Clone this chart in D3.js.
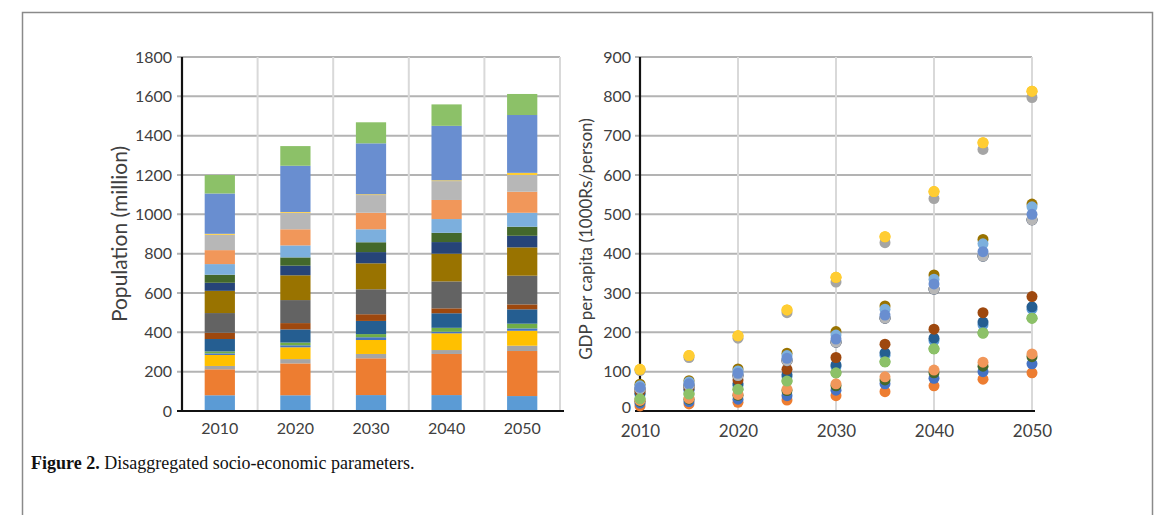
<!DOCTYPE html>
<html><head><meta charset="utf-8">
<script src="https://cdn.jsdelivr.net/npm/d3@7"></script>
<style>body{margin:0;background:#fff}svg{display:block}</style>
</head><body>
<svg id="c" width="1171" height="515"></svg>
<script>
// ---------- data ----------
const years = ["2010", "2020", "2030", "2040", "2050"];
const gdpYears = [2010, 2015, 2020, 2025, 2030, 2035, 2040, 2045, 2050];
const popTicks = [0, 200, 400, 600, 800, 1000, 1200, 1400, 1600, 1800];
const gdpTicks = [0, 100, 200, 300, 400, 500, 600, 700, 800, 900];
const gdpXTicks = [2010, 2020, 2030, 2040, 2050];
const seriesColors = ["#5B9BD5", "#ED7D31", "#A5A5A5", "#FFC000", "#4472C4", "#70AD47",
  "#255E91", "#9E480E", "#636363", "#997300", "#264478", "#43682B",
  "#7CAFDD", "#F1975A", "#B7B7B7", "#FFCD33", "#698ED0", "#8CC168"];

// population (million), one value per series, stacked bottom -> top
const pop2010 = [80, 132, 17, 56, 8, 10, 63, 32, 100, 113, 41, 41, 54, 71, 78, 5, 205, 94];
const pop2020 = [80, 162, 22, 60, 10, 14, 67, 32, 117, 126, 49, 42, 61, 82, 84, 4, 235, 100];
const pop2030 = [81, 187, 22, 71, 14, 16, 67, 34, 127, 132, 57, 50, 66, 84, 90, 4, 259, 107];
const pop2040 = [81, 209, 20, 85, 8, 20, 74, 25, 137, 141, 59, 47, 70, 97, 96, 4, 277, 109];
const pop2050 = [76, 229, 27, 76, 12, 24, 73, 25, 146, 144, 59, 46, 71, 107, 85, 11, 294, 107];

// GDP per capita (1000 Rs/person), one value per series
const gdp2010 = [42, 13, 103, 106, 20, 31, 45, 50, 56, 68, 56, 25, 64, 27, 56, 106, 60, 31];
const gdp2015 = [52, 18, 136, 141, 24, 43, 55, 59, 65, 77, 65, 30, 74, 32, 65, 141, 69, 43];
const gdp2020 = [65, 22, 185, 191, 30, 55, 69, 79, 90, 107, 90, 40, 102, 42, 90, 191, 96, 55];
const gdp2025 = [87, 28, 250, 257, 39, 76, 92, 106, 128, 147, 128, 52, 141, 55, 128, 257, 134, 76];
const gdp2030 = [113, 39, 328, 340, 53, 97, 117, 136, 175, 202, 175, 64, 193, 69, 175, 340, 183, 97];
const gdp2035 = [142, 49, 428, 443, 69, 125, 148, 170, 236, 267, 236, 79, 259, 87, 236, 443, 244, 125];
const gdp2040 = [179, 64, 540, 558, 83, 158, 185, 208, 310, 346, 310, 97, 335, 104, 310, 558, 323, 158];
const gdp2045 = [219, 81, 665, 682, 100, 198, 226, 250, 394, 436, 394, 114, 425, 124, 394, 682, 405, 198];
const gdp2050 = [259, 97, 797, 813, 120, 236, 265, 291, 486, 526, 486, 138, 519, 145, 486, 813, 500, 236];

const popByYear = [pop2010, pop2020, pop2030, pop2040, pop2050];
const gdpByYear = [gdp2010, gdp2015, gdp2020, gdp2025, gdp2030, gdp2035, gdp2040, gdp2045, gdp2050];

// ---------- drawing ----------
const svg = d3.select("#c");
const FONT = "Lato, 'Open Sans', sans-serif";
const TXT = "#404040";

// outer frame
svg.append("path").attr("d", "M22.5,515 V12.5 H1152.5 V515")
  .attr("fill", "none").attr("stroke", "#8a8a8a").attr("stroke-width", 1.5);

// ===== left: stacked bars =====
const L = {x0: 182, x1: 560, y0: 411, y1: 57};
const xB = d3.scaleBand().domain(years).range([L.x0, L.x1]).paddingInner(0.6).paddingOuter(0.3);
const yP = d3.scaleLinear().domain([0, 1800]).range([L.y0, L.y1]);
const gL = svg.append("g");

gL.append("g").selectAll("line").data(popTicks.slice(1)).join("line")
  .attr("x1", L.x0 - 5).attr("x2", L.x1).attr("y1", d => yP(d)).attr("y2", d => yP(d))
  .attr("stroke", "#b3b3b3").attr("stroke-width", 2);
const step = xB.step();
gL.append("g").selectAll("line").data(years).join("line")
  .attr("x1", (d, i) => L.x0 + step * (i + 1)).attr("x2", (d, i) => L.x0 + step * (i + 1))
  .attr("y1", L.y1).attr("y2", L.y0)
  .attr("stroke", "#d9d9d9").attr("stroke-width", 2);

const popRows = years.map((y, i) => {
  const o = {year: y};
  popByYear[i].forEach((v, k) => o["s" + k] = v);
  return o;
});
const keys = seriesColors.map((c, k) => "s" + k);
const stacked = d3.stack().keys(keys)(popRows);
gL.append("g").selectAll("g").data(stacked).join("g")
  .attr("fill", (d, k) => seriesColors[k])
  .selectAll("rect").data(d => d).join("rect")
  .attr("x", d => xB(d.data.year)).attr("width", xB.bandwidth())
  .attr("y", d => yP(d[1])).attr("height", d => yP(d[0]) - yP(d[1]));

gL.append("line").attr("x1", L.x0).attr("x2", L.x0).attr("y1", L.y1).attr("y2", L.y0 + 1)
  .attr("stroke", "#111").attr("stroke-width", 2.2);
gL.append("line").attr("x1", L.x0 - 5).attr("x2", L.x1 + 4).attr("y1", L.y0).attr("y2", L.y0)
  .attr("stroke", "#111").attr("stroke-width", 2.2);

const axL = d3.axisLeft(yP).tickValues(popTicks).tickFormat(d3.format("d")).tickSize(0).tickPadding(10);
gL.append("g").attr("transform", `translate(${L.x0},0)`).call(axL)
  .call(g => g.select(".domain").remove())
  .selectAll("text").attr("font-family", FONT).attr("font-size", 16).attr("fill", TXT);
const axLB = d3.axisBottom(xB).tickSize(0).tickPadding(12);
gL.append("g").attr("transform", `translate(0,${L.y0})`).call(axLB)
  .call(g => g.select(".domain").remove())
  .selectAll("text").attr("font-family", FONT).attr("font-size", 16).attr("fill", TXT);

gL.append("text").attr("transform", `translate(127,${(L.y0 + L.y1) / 2}) rotate(-90)`)
  .attr("text-anchor", "middle").attr("font-family", FONT).attr("font-size", 21).attr("fill", TXT)
  .text("Population (million)");

// ===== right: scatter =====
const R = {x0: 640, x1: 1032, y0: 411, y1: 57};
const xG = d3.scaleLinear().domain([2010, 2050]).range([R.x0, R.x1]);
const yG = d3.scaleLinear().domain([0, 900]).range([R.y0, R.y1]);
const gR = svg.append("g");

gR.append("g").selectAll("line").data(gdpTicks.slice(1)).join("line")
  .attr("x1", R.x0 - 5).attr("x2", R.x1).attr("y1", d => yG(d)).attr("y2", d => yG(d))
  .attr("stroke", "#b3b3b3").attr("stroke-width", 2);
gR.append("g").selectAll("line").data(gdpXTicks.slice(1)).join("line")
  .attr("x1", d => xG(d)).attr("x2", d => xG(d)).attr("y1", R.y1).attr("y2", R.y0)
  .attr("stroke", "#d9d9d9").attr("stroke-width", 2);

gR.append("line").attr("x1", R.x0).attr("x2", R.x0).attr("y1", R.y1).attr("y2", R.y0 + 1)
  .attr("stroke", "#111").attr("stroke-width", 2.2);
gR.append("line").attr("x1", R.x0 - 5).attr("x2", R.x1 + 3).attr("y1", R.y0).attr("y2", R.y0)
  .attr("stroke", "#111").attr("stroke-width", 2.2);

const pts = [];
seriesColors.forEach((c, k) => {
  gdpYears.forEach((yr, j) => pts.push({k, yr, v: gdpByYear[j][k]}));
});
gR.append("g").selectAll("circle").data(pts).join("circle")
  .attr("cx", d => xG(d.yr)).attr("cy", d => yG(d.v)).attr("r", 5.5)
  .attr("fill", d => seriesColors[d.k]);

const axR = d3.axisLeft(yG).tickValues(gdpTicks).tickFormat(d3.format("d")).tickSize(0).tickPadding(9);
gR.append("g").attr("transform", `translate(${R.x0},0)`).call(axR)
  .call(g => g.select(".domain").remove())
  .selectAll("text").attr("font-family", FONT).attr("font-size", 16).attr("fill", TXT)
  .attr("dy", d => d === 0 ? "0.1em" : "0.32em");
const axRB = d3.axisBottom(xG).tickValues(gdpXTicks).tickFormat(d3.format("d")).tickSize(0).tickPadding(14);
gR.append("g").attr("transform", `translate(0,${R.y0})`).call(axRB)
  .call(g => g.select(".domain").remove())
  .selectAll("text").attr("font-family", FONT).attr("font-size", 17).attr("fill", TXT);

gR.append("text").attr("transform", `translate(592,${(R.y0 + R.y1) / 2 + 5}) rotate(-90)`)
  .attr("text-anchor", "middle").attr("font-family", FONT).attr("font-size", 17).attr("fill", TXT)
  .text("GDP per capita (1000Rs/person)");

// ===== caption =====
const cap = svg.append("text").attr("x", 31).attr("y", 469)
  .attr("font-family", "'Liberation Serif', 'Times New Roman', serif").attr("font-size", 18).attr("fill", "#111");
cap.append("tspan").attr("font-weight", "bold").text("Figure 2.");
cap.append("tspan").text(" Disaggregated socio-economic parameters.");
</script>
</body></html>
